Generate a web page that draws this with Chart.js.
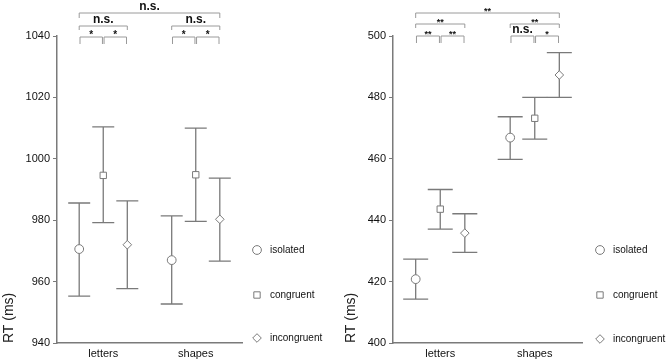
<!DOCTYPE html>
<html>
<head>
<meta charset="utf-8">
<script src="https://cdn.jsdelivr.net/npm/chart.js@4"></script>
<style>
  body { margin: 0; background: #fff; }
  #wrap { position: relative; width: 669px; height: 359px; }
  canvas { position: absolute; top: 0; }
</style>
</head>
<body>
<div id="wrap">
  <canvas id="left" width="330" height="359" style="left:0"></canvas>
  <canvas id="right" width="339" height="359" style="left:330px"></canvas>
</div>
<script>
// categories
const groups = ["letters", "shapes"];
const conditions = ["isolated", "congruent", "incongruent"];
const markers = ["circle", "rect", "rectRot"];
const markerSize = [4.4, 4.5, 4.3];
const condOffset = [-0.26, 0, 0.26];

// left panel, rows = condition, cols = group
const meanA = [[970.6, 967.0], [994.6, 994.8], [972.0, 980.3]];
const lowA = [[955.3, 952.7], [979.2, 979.6], [957.7, 966.7]];
const highA = [[985.6, 981.4], [1010.4, 1010.0], [986.3, 993.7]];
const ticksA = [940, 960, 980, 1000, 1020, 1040];

// right panel
const meanB = [[420.8, 466.9], [443.6, 473.2], [435.8, 487.3]];
const lowB = [[414.3, 459.8], [437.1, 466.4], [429.5, 480.0]];
const highB = [[427.3, 473.7], [450.0, 480.0], [442.1, 494.6]];
const ticksB = [400, 420, 440, 460, 480, 500];

// significance brackets: [group1, cond1, group2, cond2, level, label]
const sigA = [
  [0, 0, 0, 1, 0, "*"], [0, 1, 0, 2, 0, "*"], [1, 0, 1, 1, 0, "*"], [1, 1, 1, 2, 0, "*"],
  [0, 0, 0, 2, 1, "n.s."], [1, 0, 1, 2, 1, "n.s."], [0, 0, 1, 2, 2, "n.s."]
];
const sigB = [
  [0, 0, 0, 1, 0, "**"], [0, 1, 0, 2, 0, "**"], [1, 0, 1, 1, 0, "n.s."], [1, 1, 1, 2, 0, "*"],
  [0, 0, 0, 2, 1, "**"], [1, 0, 1, 2, 1, "**"], [0, 0, 1, 2, 2, "**"]
];

Chart.defaults.font.family = "'Liberation Sans', Arial, sans-serif";
Chart.defaults.color = "#111";

const gray = "#7a7a7a";

//error bars under the markers
const errorBars = {
  id: "errorBars",
  beforeDatasetsDraw(chart, args, opts) {
    const ctx = chart.ctx;
    const xs = chart.scales.x, ys = chart.scales.y;
    ctx.save();
    ctx.strokeStyle = gray;
    ctx.lineWidth = 1.3;
    for (let c = 0; c < conditions.length; c++) {
      for (let g = 0; g < groups.length; g++) {
        const x = xs.getPixelForValue(g + 1 + condOffset[c]);
        const y1 = ys.getPixelForValue(opts.low[c][g]);
        const y2 = ys.getPixelForValue(opts.high[c][g]);
        ctx.beginPath();
        ctx.moveTo(x, y1); ctx.lineTo(x, y2);
        ctx.moveTo(x - opts.cap, y1); ctx.lineTo(x + opts.cap, y1);
        ctx.moveTo(x - opts.cap, y2); ctx.lineTo(x + opts.cap, y2);
        ctx.stroke();
      }
    }
    ctx.restore();
  }
};

//brackets with stars / n.s. above the plot
const brackets = {
  id: "brackets",
  afterDraw(chart, args, opts) {
    const ctx = chart.ctx;
    const xs = chart.scales.x;
    ctx.save();
    ctx.strokeStyle = "#9a9a9a";
    ctx.lineWidth = 1;
    ctx.textAlign = "center";
    ctx.fillStyle = "#111";
    opts.items.forEach((s) => {
      let x1 = xs.getPixelForValue(s[0] + 1 + condOffset[s[1]]);
      let x2 = xs.getPixelForValue(s[2] + 1 + condOffset[s[3]]);
      const lvl = s[4];
      if (lvl === 0) { x1 += 0.8; x2 -= 0.8; }
      const y = opts.lineY[lvl];
      ctx.beginPath();
      ctx.moveTo(x1, y + opts.drop[lvl]);
      ctx.lineTo(x1, y);
      ctx.lineTo(x2, y);
      ctx.lineTo(x2, y + opts.drop[lvl]);
      ctx.stroke();
      if (s[5] === "n.s.") {
        ctx.font = "bold 12px 'Liberation Sans', Arial, sans-serif";
        ctx.fillText(s[5], (x1 + x2) / 2, y - 3);
      } else {
        ctx.font = "bold " + opts.starSize + "px 'Liberation Sans', Arial, sans-serif";
        ctx.fillText(s[5], (x1 + x2) / 2, y + opts.starShift);
      }
    });
    ctx.restore();
  }
};

//legend to the right of the plot
const sideLegend = {
  id: "sideLegend",
  afterDraw(chart, args, opts) {
    const ctx = chart.ctx;
    const x = chart.chartArea.right + opts.dx;
    ctx.save();
    ctx.strokeStyle = gray;
    ctx.lineWidth = 1;
    conditions.forEach((name, i) => {
      ctx.fillStyle = "#fff";
      Chart.helpers.drawPoint(ctx, { pointStyle: markers[i], radius: markerSize[i], rotation: 0, borderWidth: 1 }, x, opts.rows[i]);
      ctx.fillStyle = "#111";
      ctx.font = "10px 'Liberation Sans', Arial, sans-serif";
      ctx.textBaseline = "middle";
      ctx.fillText(name, x + 13, opts.rows[i]);
    });
    ctx.restore();
  }
};

function makePanel(id, mean, low, high, ticks, sig, p) {
  const datasets = conditions.map((name, c) => ({
    label: name,
    data: groups.map((g, gi) => ({ x: gi + 1 + condOffset[c], y: mean[c][gi] })),
    pointStyle: markers[c],
    pointRadius: markerSize[c],
    pointBorderColor: gray,
    pointBackgroundColor: "#fff",
    pointBorderWidth: 1,
    showLine: false,
  }));

  return new Chart(document.getElementById(id), {
    type: "scatter",
    data: { datasets },
    plugins: [errorBars, brackets, sideLegend],
    options: {
      responsive: false,
      animation: false,
      devicePixelRatio: 1,
      layout: { padding: { top: 36, right: p.right, left: 0, bottom: 0 } },
      plugins: {
        legend: { display: false },
        tooltip: { enabled: false },
        errorBars: { low, high, cap: p.cap },
        brackets: { items: sig, lineY: p.lineY, drop: p.drop, starSize: p.starSize, starShift: p.starShift },
        sideLegend: { dx: p.legendDx, rows: p.rows },
      },
      scales: {
        x: {
          type: "linear",
          min: 0.5,
          max: 2.5,
          afterFit: (s) => { s.height = 16; },
          afterBuildTicks: (s) => { s.ticks = groups.map((g, i) => ({ value: i + 1 })); },
          grid: { display: false, drawTicks: false, tickLength: 0 },
          border: { color: gray, width: 1.5 },
          ticks: {
            padding: 4,
            font: { size: 11 },
            callback: (v) => groups[v - 1],
          },
        },
        y: {
          min: ticks[0],
          max: ticks[ticks.length - 1],
          afterFit: (s) => { s.width = p.axisX; },
          afterBuildTicks: (s) => { s.ticks = ticks.map((v) => ({ value: v })); },
          grid: { drawOnChartArea: false, drawTicks: true, tickLength: 4, color: gray },
          border: { color: gray, width: 1.5 },
          ticks: { padding: 3, font: { size: 11 }, callback: (v) => String(v) },
          title: {
            display: true,
            text: "RT (ms)",
            align: "start",
            color: "#222",
            font: { size: 14 },
            padding: { top: p.titlePad, bottom: 0 },
          },
        },
      },
    },
  });
}

makePanel("left", meanA, lowA, highA, ticksA, sigA, {
  right: 88, axisX: 57, cap: 11, titlePad: 0.5,
  lineY: [37, 26, 13], drop: [7, 4, 5], starSize: 10, starShift: 0.5,
  legendDx: 15, rows: [250, 295, 338],
});

makePanel("right", meanB, lowB, highB, ticksB, sigB, {
  right: 87, axisX: 63, cap: 12.5, titlePad: 12.5,
  lineY: [36, 24, 13], drop: [7, 4, 5], starSize: 9, starShift: 1,
  legendDx: 18, rows: [250, 295, 339],
});
</script>
</body>
</html>
